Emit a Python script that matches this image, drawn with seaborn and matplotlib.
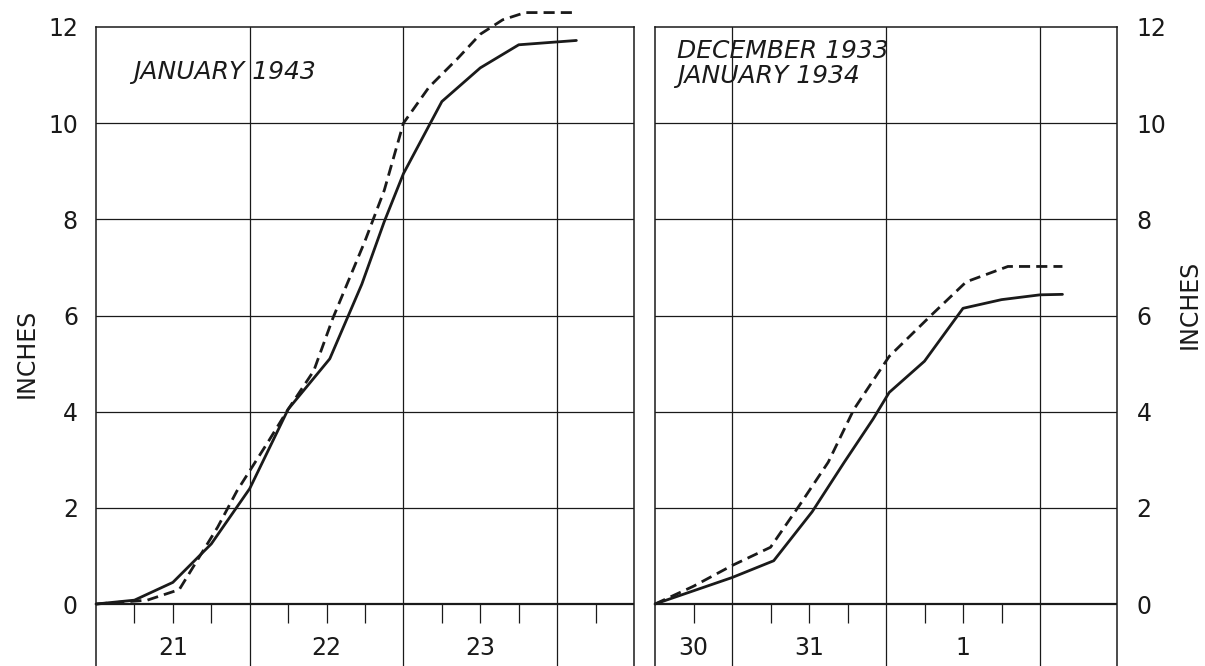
"""
Accumulated storm precipitation, two storms side by side
(January 1943 vs December 1933 / January 1934).
"""

import matplotlib
matplotlib.use("Agg")
import matplotlib.pyplot as plt
import pandas as pd
import seaborn as sns

# ---- data: hours from the left edge of each panel, inches accumulated ----
jan43_solid_hours = [0, 6, 12, 18, 24, 30, 36.5, 41.5, 45, 48, 54, 60, 66, 75]
jan43_solid = [0, 0.08, 0.45, 1.25, 2.4, 4.05, 5.1, 6.65, 7.95, 8.95, 10.45, 11.15, 11.63, 11.72]
jan43_dashed_hours = [0, 8, 13, 19, 22, 27, 30, 34, 37, 42, 45, 48, 52, 56.5, 60, 63.5, 67, 75]
jan43_dashed = [0, 0.08, 0.3, 1.6, 2.35, 3.4, 4.05, 4.85, 5.95, 7.55, 8.6, 10.0, 10.75,
                11.35, 11.85, 12.15, 12.3, 12.3]

dec33_solid_hours = [0, 12, 18.5, 24.5, 29.5, 34, 36.5, 42, 48, 54, 60, 63.5]
dec33_solid = [0, 0.55, 0.9, 1.92, 2.95, 3.85, 4.4, 5.05, 6.15, 6.33, 6.43, 6.44]
dec33_dashed_hours = [0, 6, 12, 18, 22.5, 27, 31, 36.5, 43, 48.5, 55, 63.5]
dec33_dashed = [0, 0.37, 0.8, 1.18, 2.05, 2.95, 4.05, 5.15, 6.0, 6.7, 7.02, 7.02]

# ---- axis furniture ----
left_xmax = 84
left_day_lines = [24, 48, 72]
left_ticks = [6, 12, 18, 30, 36, 42, 54, 60, 66, 78]
left_day_pos = [12, 36, 60]
left_day_labels = ["21", "22", "23"]

right_xmax = 72
right_day_lines = [12, 36, 60]
right_ticks = [6, 18, 24, 30, 42, 48, 54]
right_day_pos = [6, 24, 48]
right_day_labels = ["30", "31", "1"]

y_ticks = [0, 2, 4, 6, 8, 10, 12]

sns.set_style("white")
plt.rcParams["font.family"] = ["DejaVu Sans"]

INK = "#1a1a1a"
W, H = 1205, 666
fig = plt.figure(figsize=(W / 100, H / 100), dpi=100)

y_bottom = -(666 - 604) / 48.1   # panel frames run off the bottom of the page
top_frac = 1 - 27 / H

ax_l = fig.add_axes([96 / W, 0, (634 - 96) / W, top_frac])
ax_r = fig.add_axes([655 / W, 0, (1117 - 655) / W, top_frac])


def draw_panel(ax, xmax, day_lines, ticks, day_pos, day_labels, series):
    ax.set_xlim(0, xmax)
    ax.set_ylim(y_bottom, 12)
    for sp in ["left", "right", "top"]:
        ax.spines[sp].set_color(INK)
        ax.spines[sp].set_linewidth(1.1)
    ax.spines["bottom"].set_visible(False)

    for y in y_ticks[1:-1]:
        ax.axhline(y, color=INK, lw=0.9, zorder=1)
    ax.axhline(0, color=INK, lw=1.6, zorder=1)
    for x in day_lines:
        ax.axvline(x, color=INK, lw=0.9, zorder=1)
    ax.vlines(ticks, -0.4, 0, color=INK, lw=0.9)
    for x, lab in zip(day_pos, day_labels):
        ax.text(x, -0.92, lab, ha="center", va="center", fontsize=17, color=INK)

    for hours, vals, ls in series:
        df = pd.DataFrame({"hours": hours, "inches": vals})
        sns.lineplot(data=df, x="hours", y="inches", ax=ax, estimator=None,
                     color=INK, lw=2.0, linestyle=ls, clip_on=False, zorder=3)

    ax.set_xticks([])
    ax.set_yticks(y_ticks)
    ax.set_xlabel("")
    ax.set_ylabel("")
    ax.tick_params(axis="y", length=0, labelsize=17, labelcolor=INK)


dash = (0, (4, 2.2))
draw_panel(ax_l, left_xmax, left_day_lines, left_ticks, left_day_pos, left_day_labels,
           [(jan43_solid_hours, jan43_solid, "-"),
            (jan43_dashed_hours, jan43_dashed, dash)])
draw_panel(ax_r, right_xmax, right_day_lines, right_ticks, right_day_pos, right_day_labels,
           [(dec33_solid_hours, dec33_solid, "-"),
            (dec33_dashed_hours, dec33_dashed, dash)])

ax_l.tick_params(axis="y", pad=13)
ax_r.yaxis.tick_right()
ax_r.tick_params(axis="y", length=0, pad=14)

# storm titles
ax_l.text(5.8, 11.06, "JANUARY 1943", style="italic", fontsize=18,
          ha="left", va="center", color=INK)
ax_r.text(3.4, 11.5, "DECEMBER 1933", style="italic", fontsize=18,
          ha="left", va="center", color=INK)
ax_r.text(3.4, 10.98, "JANUARY 1934", style="italic", fontsize=18,
          ha="left", va="center", color=INK)

fig.text(27 / W, 1 - 353 / H, "INCHES", rotation=90, fontsize=17,
         ha="center", va="center", color=INK)
fig.text(1190 / W, 1 - 304 / H, "INCHES", rotation=90, fontsize=17,
         ha="center", va="center", color=INK)

fig.savefig("out.png", dpi=100)
